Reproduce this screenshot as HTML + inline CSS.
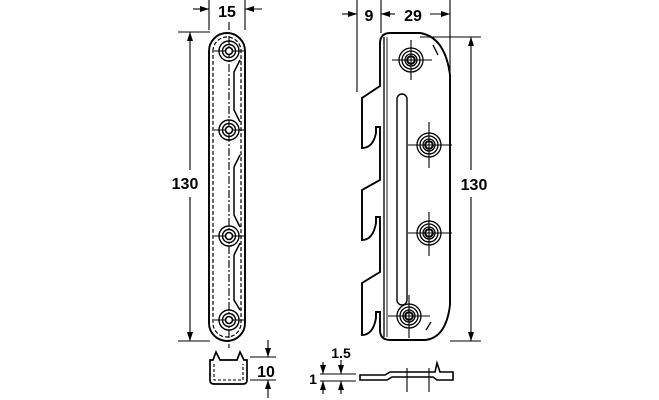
<!DOCTYPE html>
<html><head><style>
html,body{margin:0;padding:0;background:#fff;}
svg{display:block;}
text{font-family:"Liberation Sans",Arial,sans-serif;font-weight:bold;fill:#000;}
</style></head><body>
<svg width="659" height="400" viewBox="0 0 659 400" xmlns="http://www.w3.org/2000/svg">
<defs>
<marker id="a" markerWidth="9" markerHeight="6" refX="9" refY="3" orient="auto" markerUnits="userSpaceOnUse"><path d="M0,0 L9,3 L0,6 z" fill="#000"/></marker>
<g id="hole"><circle r="10" fill="none" stroke="#000" stroke-width="1.4"/><circle r="6.5" fill="none" stroke="#000" stroke-width="1.4"/><circle r="3.5" fill="#fff" stroke="#000" stroke-width="1.6"/></g>
<g id="hole2"><circle r="12" fill="none" stroke="#000" stroke-width="1.3"/><circle r="9" fill="none" stroke="#000" stroke-width="1.3"/><circle r="6" fill="none" stroke="#000" stroke-width="1.3"/><circle r="3.8" fill="none" stroke="#000" stroke-width="2"/></g>
</defs>
<g stroke="#000" fill="none" stroke-width="1.1">
<!-- left plate -->
<path d="M209,51 A18,18 0 0 1 245,51 L245,323 A18,18 0 0 1 209,323 Z" stroke-width="1.9"/>
<path d="M213,51 A14,14 0 0 1 241,51 L241,323 A14,14 0 0 1 213,323 Z" stroke-dasharray="4,2" stroke-width="1.2"/>
<line x1="229" y1="22" x2="229" y2="348" stroke-dasharray="8,2,2,2"/>
<path d="M240,60 L234,72 L234,110 L240,122" stroke-width="1.5"/>
<path d="M240,155 L234,167 L234,215 L240,227" stroke-width="1.5"/>
<path d="M240,243 L234,255 L234,300 L240,310" stroke-width="1.5"/>
<line x1="214" y1="51" x2="244" y2="51"/><line x1="214" y1="130" x2="244" y2="130"/>
<line x1="214" y1="236" x2="244" y2="236"/><line x1="214" y1="320" x2="244" y2="320"/>
<use href="#hole" x="229" y="51"/><use href="#hole" x="229" y="130"/><use href="#hole" x="229" y="236"/><use href="#hole" x="229" y="320"/>
<!-- dim 15 -->
<line x1="209" y1="0" x2="209" y2="30"/><line x1="245" y1="0" x2="245" y2="30"/>
<line x1="193" y1="9" x2="209" y2="9" marker-end="url(#a)"/><line x1="262" y1="9" x2="245" y2="9" marker-end="url(#a)"/>
<!-- dim 130 left -->
<line x1="178" y1="32" x2="210" y2="32"/><line x1="178" y1="341" x2="210" y2="341"/>
<line x1="190" y1="170" x2="190" y2="32" marker-end="url(#a)"/><line x1="190" y1="197" x2="190" y2="341" marker-end="url(#a)"/>
<!-- left profile -->
<path d="M210,360 L210,380 Q210,384 214,384 L243,384 Q247,384 247,380 L247,360 L244,360 L240,352 L237,360 L220,360 L216,352 L213,360 Z" stroke-width="1.7"/>
<path d="M214,364 L214,380 L243,380 L243,364" stroke-dasharray="3,2"/>
<line x1="250" y1="357" x2="276" y2="357"/><line x1="250" y1="380" x2="276" y2="380"/>
<line x1="268" y1="340" x2="268" y2="357" marker-end="url(#a)"/><line x1="268" y1="398" x2="268" y2="380" marker-end="url(#a)"/>
<!-- right plate -->
<path d="M390,33 L420,33 Q445,37 450,75 L450,305 Q446,338 425,340 L390,340 Q380,340 380,330
 L380,312 L376,312 L376,318 Q373,335 362,335 L362,283 L380,272
 L380,217 L376,217 L376,223 Q373,240 362,240 L362,190 L380,180
 L380,127 L376,127 L376,133 Q373,148 362,148 L362,98 L380,86
 L380,42 Q381,33 390,33 Z" stroke-width="1.9"/>
<line x1="384" y1="37" x2="384" y2="337" stroke-width="1.3"/>
<line x1="387" y1="37" x2="387" y2="337" stroke-width="0.9"/>
<path d="M397,300 L397,99 A5,5 0 0 1 407,99 L407,300 A5,5 0 0 1 397,300" stroke-width="1.4"/>
<line x1="392" y1="60" x2="432" y2="60"/><line x1="411" y1="40" x2="411" y2="80"/>
<line x1="408" y1="145" x2="452" y2="145"/><line x1="429" y1="122" x2="429" y2="168"/>
<line x1="408" y1="233" x2="452" y2="233"/><line x1="429" y1="212" x2="429" y2="256"/>
<line x1="388" y1="316" x2="430" y2="316"/><line x1="409" y1="295" x2="409" y2="338"/>
<use href="#hole2" x="411" y="60"/><use href="#hole2" x="429" y="145"/><use href="#hole2" x="429" y="233"/><use href="#hole2" x="409" y="316"/>
<path d="M433,45 L438,55" stroke-width="1.3"/><path d="M426,330 L431,322" stroke-width="1.3"/>
<!-- dims 9 / 29 -->
<line x1="357" y1="0" x2="357" y2="92"/><line x1="381" y1="0" x2="381" y2="33"/><line x1="450" y1="0" x2="450" y2="75"/>
<line x1="342" y1="14" x2="357" y2="14" marker-end="url(#a)"/>
<line x1="395" y1="14" x2="381" y2="14" marker-end="url(#a)"/>
<line x1="430" y1="14" x2="450" y2="14" marker-end="url(#a)"/>
<!-- dim 130 right -->
<line x1="420" y1="37" x2="481" y2="37"/><line x1="450" y1="341" x2="481" y2="341"/>
<line x1="471" y1="170" x2="471" y2="37" marker-end="url(#a)"/><line x1="471" y1="197" x2="471" y2="341" marker-end="url(#a)"/>
<!-- bottom right profile -->
<path d="M360,375 L385,375 L390,372 L435,372 L437,363 L440,372 L453,372 L453,380 L437,380 L433,377 L392,377 L387,380 L360,380 Z" stroke-width="1.6"/>
<line x1="407" y1="368" x2="407" y2="392"/><line x1="429" y1="368" x2="429" y2="392"/>
<line x1="320" y1="374" x2="356" y2="374"/><line x1="320" y1="381" x2="356" y2="381"/>
<line x1="323" y1="362" x2="323" y2="374" marker-end="url(#a)"/><line x1="323" y1="394" x2="323" y2="381" marker-end="url(#a)"/>
<line x1="341" y1="360" x2="341" y2="374" marker-end="url(#a)"/><line x1="341" y1="394" x2="341" y2="381" marker-end="url(#a)"/>
</g>
<text x="227" y="17" font-size="16" text-anchor="middle">15</text>
<text x="185" y="189" font-size="16" text-anchor="middle">130</text>
<text x="266" y="377" font-size="16" text-anchor="middle">10</text>
<text x="369" y="21" font-size="16" text-anchor="middle">9</text>
<text x="413" y="21" font-size="16" text-anchor="middle">29</text>
<text x="474" y="190" font-size="16" text-anchor="middle">130</text>
<text x="341" y="358" font-size="14" text-anchor="middle">1.5</text>
<text x="313" y="384" font-size="14" text-anchor="middle">1</text>
</svg>
</body></html>
